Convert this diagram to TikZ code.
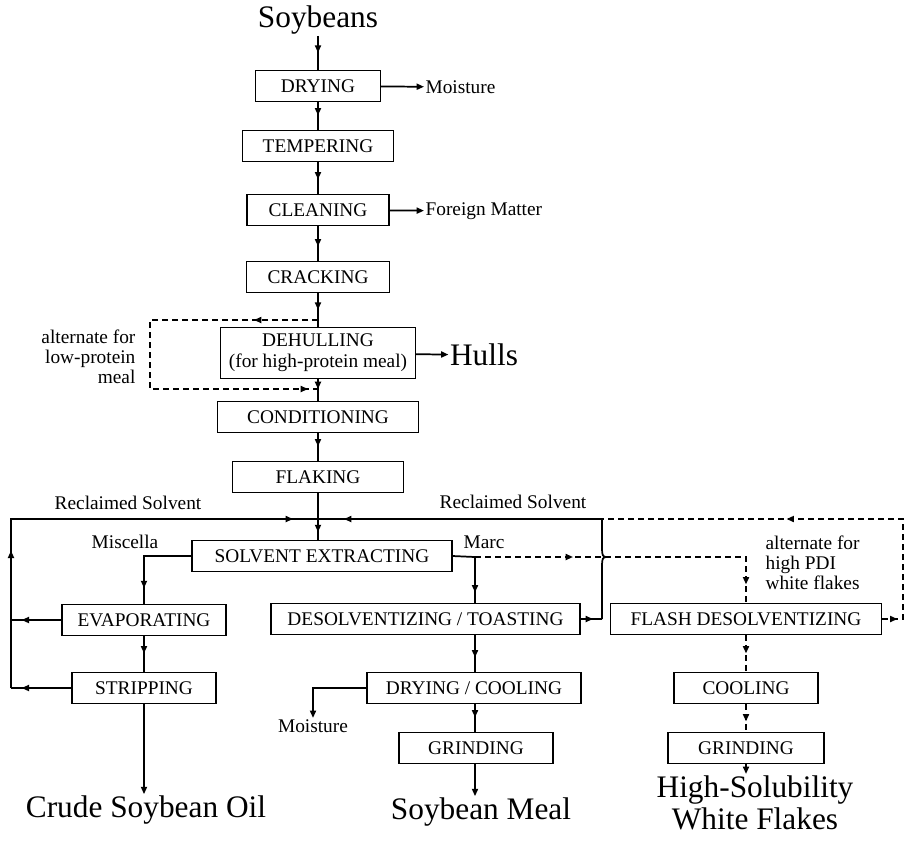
\documentclass[tikz,border=0pt]{standalone}
\usepackage{fontspec}
\setmainfont{Liberation Serif}
\usetikzlibrary{arrows.meta,decorations.markings}

\tikzset{
  stage/.style={draw,line width=0.9pt,font=\fontsize{14.5}{16}\selectfont,minimum height=23pt,inner sep=2pt},
  lbl/.style={font=\fontsize{14.5}{15}\selectfont,inner sep=1pt},
  big/.style={font=\fontsize{23.5}{24.5}\selectfont,inner sep=1pt},
  flow/.style={line width=1.3pt},
  alt/.style={line width=1.3pt,dash pattern=on 4.5pt off 3pt},
  arrowat/.style={postaction={decorate,decoration={markings,mark=at position #1 with {\arrow{>}}}}},
  arrowat/.default=-11pt
}

\begin{document}
\begin{tikzpicture}[x=0.75pt,y=-0.75pt,>={Triangle[length=5.5pt,width=4.5pt]}]
\useasboundingbox (0,0) rectangle (905,844);
% main line
\node[big] (soy) at (318,20) {Soybeans};
\node[stage,minimum width=93.75pt] (dry) at (318,86) {DRYING};
\node[stage,minimum width=113.25pt] (temp) at (318,146) {TEMPERING};
\node[stage,minimum width=106.5pt] (clean) at (318,210) {CLEANING};
\node[stage,minimum width=107.25pt] (crack) at (318,277) {CRACKING};
\node[stage,minimum width=146.25pt,minimum height=38pt,align=center] (dehull) at (318,353) {DEHULLING\\(for high-protein meal)};
\node[stage,minimum width=150.75pt] (cond) at (318,417) {CONDITIONING};
\node[stage,minimum width=128.25pt] (flak) at (318,477) {FLAKING};
\node[stage,minimum width=195pt] (solv) at (322,556) {SOLVENT EXTRACTING};
% three branches
\node[stage,minimum width=123pt] (evap) at (144,620) {EVAPORATING};
\node[stage,minimum width=108pt] (strip) at (144,688) {STRIPPING};
\node[stage,minimum width=231.75pt] (desolv) at (425.5,619) {DESOLVENTIZING / TOASTING};
\node[stage,minimum width=160.5pt] (dc) at (474,688) {DRYING / COOLING};
\node[stage,minimum width=115.5pt] (grind) at (476,748) {GRINDING};
\node[stage,minimum width=203.25pt] (flash) at (746,619) {FLASH DESOLVENTIZING};
\node[stage,minimum width=108pt] (cool) at (746,688) {COOLING};
\node[stage,minimum width=117pt] (grindb) at (746,748) {GRINDING};
% products and side streams
\node[big] (oil) at (146,810) {Crude Soybean Oil};
\node[big] (meal) at (481,812) {Soybean Meal};
\node[big,align=center] (hsw) at (755,803) {High-Solubility\\White Flakes};
\node[big] (hulls) at (484,355) {Hulls};
\node[lbl,anchor=west] (moista) at (424,87) {Moisture};
\node[lbl,anchor=west] (fm) at (424,211) {Foreign Matter};
\node[lbl] (moistb) at (313,726) {Moisture};
\node[lbl] (rsl) at (128,503) {Reclaimed Solvent};
\node[lbl] (rsr) at (513,502) {Reclaimed Solvent};
\node[lbl] (misc) at (125,542) {Miscella};
\node[lbl] (marctxt) at (484,542) {Marc};
\node[lbl,anchor=east,align=right] (altlow) at (137,357) {alternate for\\low-protein\\meal};
\node[lbl,anchor=west,align=left] (althigh) at (764,563) {alternate for\\high PDI\\white flakes};

\coordinate (byin) at (318,320);
\coordinate (byout) at (318,389);
\coordinate (marc) at (475,557);
\coordinate (rr) at (602,619);
\coordinate (rt) at (602,519);
\coordinate (lt) at (11,519);
\coordinate (lb) at (11,688);

\draw[flow,arrowat=-13pt] (soy) -- (dry);
\draw[flow,arrowat] (dry) -- (temp);
\draw[flow,arrowat] (temp) -- (clean);
\draw[flow,arrowat] (clean) -- (crack);
\draw[flow,arrowat=-13pt] (crack) -- (dehull);
\draw[flow,arrowat=-9pt] (dehull) -- (cond);
\draw[flow,arrowat] (cond) -- (flak);
\draw[flow,arrowat=-6pt] (flak.south) -- (flak.south |- solv.north);
\draw[alt,arrowat=48pt,arrowat=-7.5pt] (byin) -- (150,320) -- (150,389) -- (byout);
\draw[flow,->] (dry) -- (moista);
\draw[flow,->] (clean) -- (fm);
\draw[flow,->] (dehull) -- (hulls);
% oil side
\draw[flow,arrowat=-12pt] (solv.west) -| (evap.north);
\draw[flow,arrowat=-14pt] (evap) -- (strip);
\draw[flow,->] (strip.south) -- (strip.south |- oil.north);
\draw[flow,arrowat=-8pt] (evap.west) -- (evap.west -| lb);
\draw[flow,arrowat=-8pt] (strip.west) -- (lb);
\draw[flow,arrowat=103pt,arrowat=-18.75pt] (lb) -- (lt) -- (flak.south |- lt);
% meal side
\draw[flow,arrowat=-8pt] (solv.east) -- (marc) -- (marc |- desolv.north);
\draw[flow,arrowat] (marc |- desolv.south) -- (dc.north -| marc);
\draw[flow,arrowat] (dc.south -| marc) -- (grind.north -| marc);
\draw[flow,->] (grind.south -| marc) -- (meal.north -| marc);
\draw[flow,->] (dc.west) -| (moistb.north);
\draw[flow,arrowat=-6.75pt] (desolv.east) -- (rr);
\draw[flow,arrowat=-19.5pt] (rr) -- (602,565) .. controls (602,559) and (603,557) .. (606,557)
  .. controls (603,557) and (602,555) .. (602,549) -- (rt) -- (flak.south |- rt);
% white flakes side
\draw[alt,arrowat=73.5pt,arrowat=-14pt] (marc) -- (flash.north |- marc) -- (flash.north);
\draw[alt,arrowat=11.5pt,arrowat=178pt] (flash.east) -- (903,619) -- (903,519) -- (rt);
\draw[alt,arrowat=-14pt] (flash) -- (cool);
\draw[alt,arrowat=-8pt] (cool) -- (grindb);
\draw[alt,->] (grindb.south) -- (grindb.south |- hsw.north);
\end{tikzpicture}
\end{document}
